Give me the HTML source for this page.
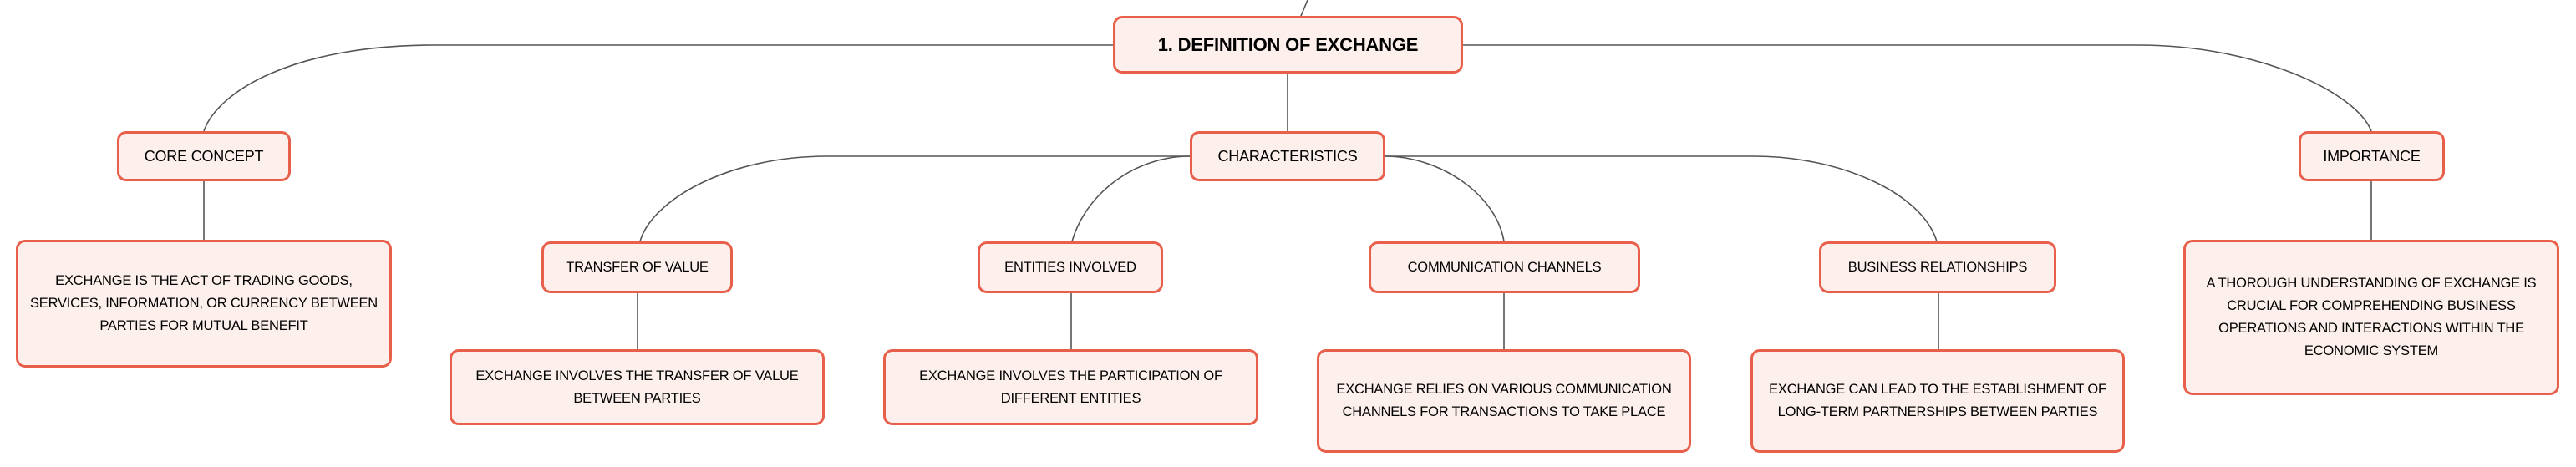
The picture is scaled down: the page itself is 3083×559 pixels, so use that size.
<!DOCTYPE html>
<html><head><meta charset="utf-8"><style>
html,body{margin:0;padding:0;background:#fff;}
body{width:3083px;height:559px;position:relative;overflow:hidden;font-family:"Liberation Sans",sans-serif;}
.b{position:absolute;box-sizing:border-box;background:#fdf0ec;border:3px solid #e8604c;border-radius:11px;display:flex;align-items:center;justify-content:center;text-align:center;color:#000;font-size:17px;line-height:27px;white-space:nowrap;letter-spacing:-0.2px;}
.l{font-size:16.5px;}
.s{font-size:16.5px;}
svg{position:absolute;left:0;top:0;}
</style></head><body>
<svg width="3083" height="559" fill="none" stroke="#555" stroke-width="1.6">
<path d="M1565 0 L1557 19"/>
<path d="M1332 54 L520 54 C350 54 260 110 244 157"/>
<path d="M1751 54 L2560 54 C2700 54 2820 110 2838 157"/>
<path d="M1541 88 L1541 157"/>
<path d="M244 217 L244 287"/>
<path d="M2838 217 L2838 287"/>
<path d="M1424 187 L990 187 C870 187 780 240 766 289"/>
<path d="M1424 187 C1360 187 1300 230 1283 289"/>
<path d="M1658 187 C1720 187 1790 230 1800 289"/>
<path d="M1658 187 L2100 187 C2200 187 2300 230 2318 289"/>
<path d="M763 351 L763 421"/>
<path d="M1282 351 L1282 421"/>
<path d="M1800 351 L1800 421"/>
<path d="M2320 351 L2320 421"/>
</svg>
<div class="b" style="left:1332px;top:19px;width:419px;height:69px;font-weight:bold;font-size:22px;">1. DEFINITION OF EXCHANGE</div>
<div class="b" style="left:1424px;top:157px;width:234px;height:60px;font-size:18px;">CHARACTERISTICS</div>
<div class="b" style="left:140px;top:157px;width:208px;height:60px;font-size:18px;">CORE CONCEPT</div>
<div class="b" style="left:2751px;top:157px;width:175px;height:60px;font-size:18px;">IMPORTANCE</div>
<div class="b l" style="left:19px;top:287px;width:450px;height:153px;">EXCHANGE IS THE ACT OF TRADING GOODS,<br>SERVICES, INFORMATION, OR CURRENCY BETWEEN<br>PARTIES FOR MUTUAL BENEFIT</div>
<div class="b l" style="left:2613px;top:287px;width:450px;height:186px;">A THOROUGH UNDERSTANDING OF EXCHANGE IS<br>CRUCIAL FOR COMPREHENDING BUSINESS<br>OPERATIONS AND INTERACTIONS WITHIN THE<br>ECONOMIC SYSTEM</div>
<div class="b s" style="left:648px;top:289px;width:229px;height:62px;">TRANSFER OF VALUE</div>
<div class="b s" style="left:1170px;top:289px;width:222px;height:62px;">ENTITIES INVOLVED</div>
<div class="b s" style="left:1638px;top:289px;width:325px;height:62px;">COMMUNICATION CHANNELS</div>
<div class="b s" style="left:2177px;top:289px;width:284px;height:62px;">BUSINESS RELATIONSHIPS</div>
<div class="b l" style="left:538px;top:418px;width:449px;height:91px;">EXCHANGE INVOLVES THE TRANSFER OF VALUE<br>BETWEEN PARTIES</div>
<div class="b l" style="left:1057px;top:418px;width:449px;height:91px;">EXCHANGE INVOLVES THE PARTICIPATION OF<br>DIFFERENT ENTITIES</div>
<div class="b l" style="left:1576px;top:418px;width:448px;height:124px;">EXCHANGE RELIES ON VARIOUS COMMUNICATION<br>CHANNELS FOR TRANSACTIONS TO TAKE PLACE</div>
<div class="b l" style="left:2095px;top:418px;width:448px;height:124px;">EXCHANGE CAN LEAD TO THE ESTABLISHMENT OF<br>LONG-TERM PARTNERSHIPS BETWEEN PARTIES</div>
</body></html>
